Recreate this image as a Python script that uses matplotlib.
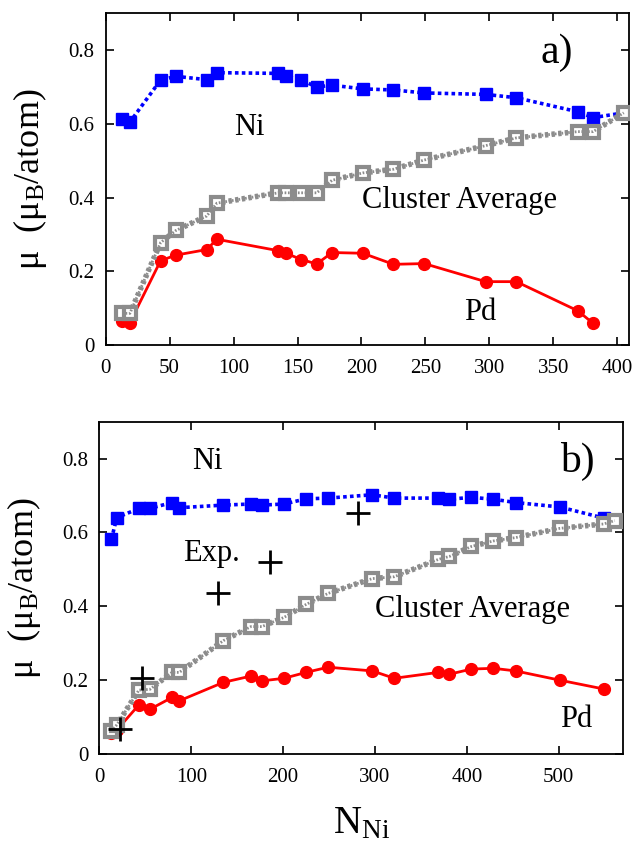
import matplotlib
matplotlib.use("Agg")
import matplotlib.pyplot as plt

plt.rcParams['font.family'] = ['Liberation Serif', 'DejaVu Serif']
plt.rcParams['mathtext.fontset'] = 'custom'
plt.rcParams['mathtext.rm'] = 'Liberation Serif'
plt.rcParams['mathtext.it'] = 'Liberation Serif:italic'

# ---- panel a data ----
a_N = [13, 19, 43, 55, 79, 87, 135, 141, 153, 165, 177, 201, 225, 249, 297, 321, 369, 381, 405]
a_ni = [0.612, 0.605, 0.719, 0.729, 0.720, 0.739, 0.737, 0.730, 0.719, 0.700, 0.705,
        0.695, 0.692, 0.684, 0.680, 0.671, 0.633, 0.617, 0.630]
a_avg = [0.086, 0.086, 0.278, 0.311, 0.350, 0.385, 0.413, 0.413, 0.413, 0.413, 0.447,
         0.467, 0.477, 0.502, 0.541, 0.562, 0.579, 0.579, 0.630]
a_pd_N = [13, 19, 43, 55, 79, 87, 135, 141, 153, 165, 177, 201, 225, 249, 297, 321, 369, 381]
a_pd = [0.066, 0.061, 0.229, 0.244, 0.259, 0.287, 0.256, 0.249, 0.232, 0.220, 0.251,
        0.249, 0.219, 0.221, 0.172, 0.172, 0.093, 0.059]

# ---- panel b data ----
b_N = [13, 19, 43, 55, 79, 87, 135, 165, 177, 201, 225, 249, 297, 321, 369, 381,
       405, 429, 453, 501, 549, 561]
b_ni = [0.581, 0.640, 0.665, 0.665, 0.681, 0.667, 0.674, 0.677, 0.674, 0.677, 0.691,
        0.693, 0.702, 0.693, 0.693, 0.690, 0.695, 0.690, 0.681, 0.669, 0.639, 0.632]
b_avg = [0.062, 0.079, 0.173, 0.175, 0.221, 0.221, 0.307, 0.345, 0.345, 0.370, 0.405,
         0.435, 0.475, 0.480, 0.527, 0.535, 0.562, 0.577, 0.586, 0.611, 0.623, 0.632]
b_pd_N = [13, 19, 43, 55, 79, 87, 135, 165, 177, 201, 225, 249, 297, 321, 369, 381,
          405, 429, 453, 501, 549]
b_pd = [0.056, 0.065, 0.133, 0.121, 0.153, 0.144, 0.194, 0.211, 0.198, 0.205, 0.221,
        0.235, 0.225, 0.205, 0.221, 0.216, 0.230, 0.232, 0.225, 0.200, 0.176]
exp_N = [22, 46, 129, 186, 281]
exp_mu = [0.068, 0.207, 0.435, 0.521, 0.652]

a_xticks = [0, 50, 100, 150, 200, 250, 300, 350, 400]
b_xticks = [0, 100, 200, 300, 400, 500]
yticks = [0, 0.2, 0.4, 0.6, 0.8]
ytick_labels = ['0', '0.2', '0.4', '0.6', '0.8']

BLUE = '#0000ff'
RED = '#ff0000'
GRAY = '#8c8c8c'

fig = plt.figure(figsize=(6.42, 8.43), dpi=100)
axa = fig.add_axes([0.1645, 0.5907, 0.8151, 0.3935])
axb = fig.add_axes([0.1548, 0.1056, 0.8156, 0.3942])


def draw(ax, N, ni, avg, pdN, pd):
    ax.plot(N, ni, color=BLUE, ls=(0, (1, 0.9)), lw=2.6, marker='s', ms=8.5,
            mfc=BLUE, mec=BLUE, zorder=3)
    ax.plot(pdN, pd, color=RED, ls='-', lw=2.0, marker='o', ms=8.5,
            mfc=RED, mec=RED, zorder=4)
    ax.plot(N, avg, color=GRAY, ls=(0, (0.6, 0.6)), lw=4.0, marker='s', ms=9,
            mfc='white', mec=GRAY, mew=3.0, zorder=5)
    ax.plot(N, avg, color=GRAY, ls=(0, (0.6, 0.6)), lw=2.0, zorder=6)
    ax.set_ylim(0, 0.9)
    ax.set_yticks(yticks)
    ax.set_yticklabels(ytick_labels)
    ax.tick_params(direction='in', top=True, right=True, length=6, width=1.2,
                   labelsize=15)
    ax.tick_params(axis='x', pad=10)
    ax.tick_params(axis='y', pad=8)
    for s in ax.spines.values():
        s.set_linewidth(1.3)
    ax.set_ylabel(r'μ  (μ$_\mathrm{B}$/atom)', fontsize=26, labelpad=14)


draw(axa, a_N, a_ni, a_avg, a_pd_N, a_pd)
axa.set_xlim(0, 409)
axa.set_xticks(a_xticks)
axa.text(112, 0.569, 'Ni', fontsize=22, ha='center', va='baseline')
axa.text(200.5, 0.371, 'Cluster Average', fontsize=22, ha='left', va='baseline')
axa.text(280, 0.068, 'Pd', fontsize=22, ha='left', va='baseline')
axa.text(340, 0.765, 'a)', fontsize=30, ha='left', va='baseline')

draw(axb, b_N, b_ni, b_avg, b_pd_N, b_pd)
axb.plot(exp_N, exp_mu, ls='none', marker='+', ms=17, mew=2.0, color='black', zorder=7)
axb.set_xlim(0, 570)
axb.set_xticks(b_xticks)
axb.text(117.8, 0.772, 'Ni', fontsize=22, ha='center', va='baseline')
axb.text(91, 0.523, 'Exp.', fontsize=22, ha='left', va='baseline')
axb.text(300.5, 0.372, 'Cluster Average', fontsize=22, ha='left', va='baseline')
axb.text(501, 0.074, 'Pd', fontsize=22, ha='left', va='baseline')
axb.text(501.7, 0.765, 'b)', fontsize=30, ha='left', va='baseline')
axb.set_xlabel(r'N$_\mathrm{Ni}$', fontsize=28, labelpad=13)

fig.savefig('out.png', dpi=100)
